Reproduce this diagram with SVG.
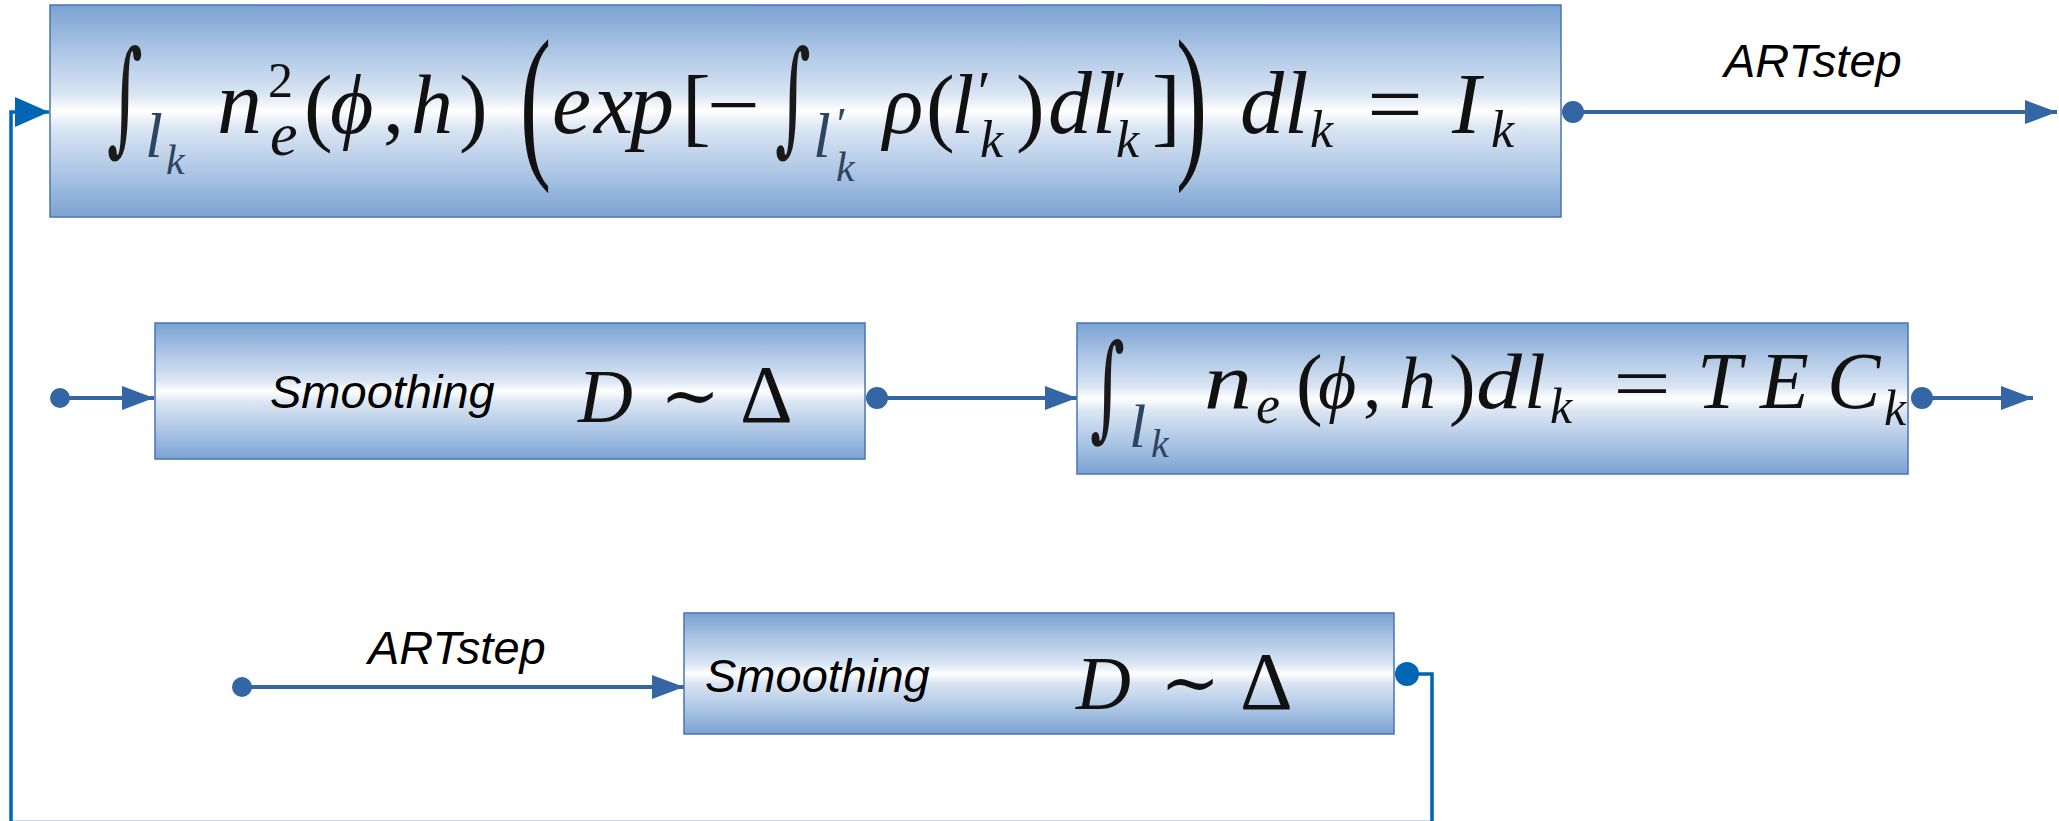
<svg xmlns="http://www.w3.org/2000/svg" width="2059" height="821" viewBox="0 0 2059 821">
<style>
.box{stroke:#4a74b4;stroke-width:1.5;fill:url(#g)}
.lab{font-family:"Liberation Sans",Arial,sans-serif;font-style:italic;fill:#000}
.mi{font-family:"Liberation Serif","DejaVu Serif",serif;font-style:italic;fill:#111}
.r{font-family:"Liberation Serif","DejaVu Serif",serif;fill:#111}
.int{font-family:"DejaVu Serif",serif;fill:#1a1a1a}
.sb{fill:#2e4460}
.ln{stroke:#3465a4;stroke-width:4;fill:none}
.fb{stroke:#0066b3;stroke-width:3.5;fill:none}
.dot{fill:#3465a4}
</style>
<defs>
<linearGradient id="g" x1="0" y1="0" x2="0" y2="1">
<stop offset="0" stop-color="#7aa2d2"/>
<stop offset="0.2" stop-color="#a9c3e4"/>
<stop offset="0.42" stop-color="#d9e5f3"/>
<stop offset="0.5" stop-color="#ffffff"/>
<stop offset="0.58" stop-color="#dbe6f3"/>
<stop offset="0.8" stop-color="#aac4e4"/>
<stop offset="1" stop-color="#7aa2d2"/>
</linearGradient>
<marker id="a" markerUnits="userSpaceOnUse" markerWidth="32" markerHeight="24" refX="32" refY="12" orient="auto">
<path d="M0,0 L32,12 L0,24 Z" fill="#3465a4"/>
</marker>
<marker id="af" markerUnits="userSpaceOnUse" markerWidth="34" markerHeight="30" refX="34" refY="15" orient="auto">
<path d="M0,0 L34,15 L0,30 Z" fill="#0066b3"/>
</marker>
</defs>

<g id="connectors">
<path class="fb" d="M1407,674 H1432 V822.5 H11 V112 H49" marker-end="url(#af)"/>
<circle cx="1407" cy="674" r="12" fill="#0066b3"/>
<path class="ln" d="M1573,112 H2057" marker-end="url(#a)"/>
<circle class="dot" cx="1573" cy="112" r="11"/>
<path class="ln" d="M60,398 H154" marker-end="url(#a)"/>
<circle class="dot" cx="60" cy="398" r="10"/>
<path class="ln" d="M877,398 H1077" marker-end="url(#a)"/>
<circle class="dot" cx="877" cy="398" r="11"/>
<path class="ln" d="M1922,398 H2033" marker-end="url(#a)"/>
<circle class="dot" cx="1922" cy="398" r="11"/>
<path class="ln" d="M242,687 H684" marker-end="url(#a)"/>
<circle class="dot" cx="242" cy="687" r="10"/>
<text class="lab" x="1724" y="77" font-size="47">ARTstep</text>
<text class="lab" x="368" y="664" font-size="47">ARTstep</text>
</g>

<g id="node-intensity">
<rect class="box" x="50" y="5" width="1511" height="212"/>
<text class="int" transform="translate(107,139) scale(0.82,1.48)" font-size="84">∫</text>
<text class="mi sb" x="145" y="157" font-size="64">l</text>
<text class="mi sb" x="166" y="174" font-size="42">k</text>
<text class="mi" x="217" y="133" font-size="90">n</text>
<text class="r" x="268" y="97" font-size="50">2</text>
<text class="mi" x="270" y="155" font-size="62">e</text>
<text class="r" x="304" y="135" font-size="86">(</text>
<text class="mi" x="330" y="133" font-size="84">ϕ</text>
<text class="r" x="383" y="133" font-size="84">,</text>
<text class="mi" x="411" y="133" font-size="84">h</text>
<text class="r" x="459" y="135" font-size="86">)</text>
<text class="r" transform="translate(520,157) scale(0.55,1)" font-size="170">(</text>
<text class="mi" x="552" y="133" font-size="88">e</text>
<text class="mi" x="594" y="133" font-size="88">x</text>
<text class="mi" x="630" y="133" font-size="88">p</text>
<text class="r" x="682" y="135" font-size="86">[</text>
<text class="r" x="707" y="133" font-size="84" textLength="53" lengthAdjust="spacingAndGlyphs">−</text>
<text class="int" transform="translate(775,139) scale(0.82,1.48)" font-size="84">∫</text>
<text class="mi sb" x="813" y="157" font-size="64">l</text>
<text class="mi sb" x="834" y="140" font-size="46">′</text>
<text class="mi sb" x="836" y="181" font-size="42">k</text>
<text class="mi" x="883" y="133" font-size="84">ρ</text>
<text class="r" x="926" y="135" font-size="86">(</text>
<text class="mi" x="951" y="133" font-size="84">l</text>
<text class="mi" x="974" y="112" font-size="60">′</text>
<text class="mi" x="980" y="157" font-size="52">k</text>
<text class="r" x="1016" y="135" font-size="86">)</text>
<text class="mi" x="1048" y="133" font-size="88">d</text>
<text class="mi" x="1092" y="133" font-size="88">l</text>
<text class="mi" x="1110" y="112" font-size="60">′</text>
<text class="mi" x="1116" y="157" font-size="52">k</text>
<text class="r" x="1152" y="135" font-size="86">]</text>
<text class="r" transform="translate(1176,157) scale(0.55,1)" font-size="170">)</text>
<text class="mi" x="1240" y="133" font-size="88">d</text>
<text class="mi" x="1284" y="133" font-size="88">l</text>
<text class="mi" x="1310" y="147" font-size="52">k</text>
<text class="r" x="1367" y="133" font-size="84" textLength="56" lengthAdjust="spacingAndGlyphs">=</text>
<text class="mi" x="1452" y="133" font-size="86">I</text>
<text class="mi" x="1491" y="147" font-size="52">k</text>
</g>

<g id="node-smoothing1">
<rect class="box" x="155" y="323" width="710" height="136"/>
<text class="lab" x="270" y="408" font-size="47">Smoothing</text>
<text class="mi" x="578" y="422" font-size="76">D</text>
<text class="r" x="660" y="420" font-size="72">∼</text>
<text class="r" x="740" y="422" font-size="82">Δ</text>
</g>

<g id="node-tec">
<rect class="box" x="1077" y="323" width="831" height="151"/>
<text class="int" transform="translate(1090,426) scale(0.82,1.4)" font-size="82">∫</text>
<text class="mi sb" x="1129" y="447" font-size="62">l</text>
<text class="mi sb" x="1151" y="457" font-size="40">k</text>
<text class="mi" x="1204" y="408" font-size="80" textLength="48" lengthAdjust="spacingAndGlyphs">n</text>
<text class="mi" x="1256" y="423" font-size="54">e</text>
<text class="r" x="1296" y="410" font-size="80">(</text>
<text class="mi" x="1318" y="408" font-size="74">ϕ</text>
<text class="r" x="1363" y="408" font-size="74">,</text>
<text class="mi" x="1399" y="408" font-size="74">h</text>
<text class="r" x="1449" y="410" font-size="80">)</text>
<text class="mi" x="1476" y="408" font-size="78" textLength="46" lengthAdjust="spacingAndGlyphs">d</text>
<text class="mi" x="1524" y="408" font-size="78">l</text>
<text class="mi" x="1550" y="423" font-size="50">k</text>
<text class="r" x="1613" y="408" font-size="74" textLength="58" lengthAdjust="spacingAndGlyphs">=</text>
<text class="mi" x="1697" y="408" font-size="80">T</text>
<text class="mi" x="1760" y="408" font-size="80">E</text>
<text class="mi" x="1827" y="408" font-size="80">C</text>
<text class="mi" x="1884" y="425" font-size="50">k</text>
</g>

<g id="node-smoothing2">
<rect class="box" x="684" y="613" width="710" height="121"/>
<text class="lab" x="705" y="692" font-size="47">Smoothing</text>
<text class="mi" x="1076" y="709" font-size="76">D</text>
<text class="r" x="1160" y="707" font-size="72">∼</text>
<text class="r" x="1240" y="709" font-size="82">Δ</text>
</g>
</svg>
